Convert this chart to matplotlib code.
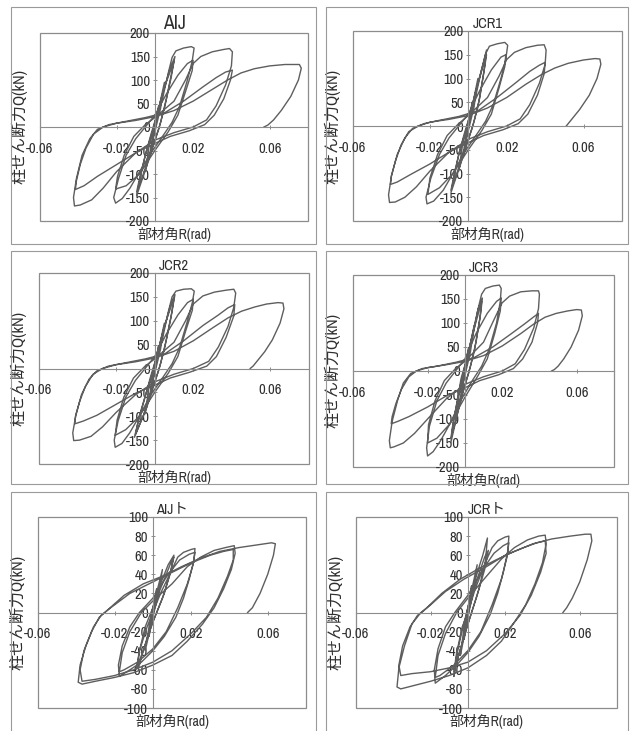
import matplotlib.pyplot as plt
from matplotlib.patches import Rectangle
from matplotlib import font_manager as fm

# pick a narrow latin face if the box has one (the scan uses a condensed font)
narrow = None
for f in fm.fontManager.ttflist:
    if ('Narrow' in f.name or 'Condensed' in f.name) and f.style == 'normal':
        narrow = f.name
        break
if narrow is None:
    for f in fm.fontManager.ttflist:
        if f.stretch in ('condensed', 'semi-condensed') and f.style == 'normal':
            narrow = f.name
            plt.rcParams['font.stretch'] = f.stretch
            break
latin = narrow if narrow else 'Liberation Sans'
num_size = 10.5 if narrow else 9
plt.rcParams['font.family'] = [latin, 'Noto Sans CJK JP']

# hysteresis loops, (R rad, Q kN)
aij_loop = [
    (0, 0), (0.002, 45), (0.001, 15), (-0.002, -45), (-0.001, -15), (0.001, 20),
    (0.005, 95), (0.003, 40), (0.0, -10), (-0.005, -95), (-0.003, -40), (0.0, 10),
    (0.004, 70), (0.008, 125), (0.0105, 150), (0.009, 120), (0.006, 60), (0.003, 10), (0.0, -30),
    (-0.004, -80), (-0.0095, -146), (-0.008, -115), (-0.005, -60), (-0.002, -15), (0.001, 25),
    (0.005, 85), (0.01, 140), (0.0085, 105), (0.005, 40), (0.002, -5), (-0.002, -50),
    (-0.006, -100), (-0.0095, -138), (-0.0075, -100), (-0.004, -45), (0.0, 5),
    (0.004, 60), (0.007, 115), (0.009, 148), (0.011, 162), (0.015, 168), (0.019, 171),
    (0.0205, 168), (0.0195, 140), (0.017, 100), (0.013, 45), (0.009, 10), (0.004, -20),
    (-0.002, -55), (-0.008, -95), (-0.013, -130), (-0.017, -152), (-0.0205, -162),
    (-0.0215, -150), (-0.019, -110), (-0.015, -60), (-0.01, -25), (-0.005, 0), (0.0, 25),
    (0.006, 70), (0.012, 110), (0.017, 135), (0.02, 142), (0.0195, 120), (0.016, 75),
    (0.012, 25), (0.007, -10), (0.0, -50), (-0.008, -100), (-0.015, -125), (-0.0205, -132),
    (-0.0195, -105), (-0.016, -60), (-0.011, -20), (-0.005, 5), (0.0, 20),
    (0.01, 55), (0.016, 100), (0.02, 135), (0.024, 150), (0.03, 160), (0.036, 165),
    (0.039, 167), (0.0405, 160), (0.04, 130), (0.037, 90), (0.032, 45), (0.027, 15),
    (0.02, 0), (0.01, -12), (0.0, -28), (-0.01, -55), (-0.02, -95), (-0.027, -130),
    (-0.033, -155), (-0.039, -166), (-0.042, -168), (-0.0425, -150), (-0.041, -110),
    (-0.038, -60), (-0.034, -25), (-0.03, -5), (-0.024, 5), (-0.015, 12), (-0.005, 20),
    (0.005, 30), (0.015, 55), (0.025, 85), (0.032, 105), (0.037, 117), (0.0405, 121),
    (0.0395, 100), (0.036, 60), (0.031, 25), (0.026, 5), (0.018, -8), (0.008, -20),
    (0.0, -35), (-0.01, -55), (-0.02, -80), (-0.03, -105), (-0.037, -125), (-0.0415, -133),
    (-0.041, -115), (-0.039, -80), (-0.036, -45), (-0.032, -15), (-0.027, 0), (-0.02, 8),
    (-0.01, 14), (0.0, 22), (0.01, 35), (0.02, 55), (0.03, 80), (0.038, 100), (0.045, 115),
    (0.052, 124), (0.06, 130), (0.068, 133), (0.0755, 133), (0.0765, 125), (0.075, 100),
    (0.071, 65), (0.066, 35), (0.062, 15), (0.059, 4), (0.057, 0),
]

jcr1_loop = [
    (0, 0), (0.002, 50), (0.001, 15), (-0.002, -45), (-0.001, -15), (0.001, 20),
    (0.005, 100), (0.003, 40), (0.0, -10), (-0.005, -95), (-0.003, -40), (0.0, 10),
    (0.004, 75), (0.008, 135), (0.0095, 160), (0.0085, 125), (0.006, 60), (0.003, 10), (0.0, -30),
    (-0.004, -80), (-0.009, -140), (-0.0075, -110), (-0.005, -60), (-0.002, -15), (0.001, 25),
    (0.005, 90), (0.0095, 150), (0.008, 110), (0.005, 40), (0.002, -5), (-0.002, -50),
    (-0.006, -100), (-0.009, -135), (-0.007, -95), (-0.004, -45), (0.0, 5),
    (0.004, 65), (0.007, 120), (0.009, 152), (0.011, 168), (0.015, 173), (0.019, 176),
    (0.0205, 170), (0.0195, 140), (0.017, 100), (0.013, 45), (0.009, 10), (0.004, -20),
    (-0.002, -55), (-0.008, -100), (-0.013, -135), (-0.018, -158), (-0.0215, -164),
    (-0.022, -150), (-0.0195, -110), (-0.015, -60), (-0.01, -25), (-0.005, 0), (0.0, 25),
    (0.006, 75), (0.012, 118), (0.017, 145), (0.0195, 150), (0.019, 125), (0.016, 80),
    (0.012, 25), (0.007, -10), (0.0, -50), (-0.008, -100), (-0.015, -130), (-0.021, -144),
    (-0.02, -110), (-0.016, -60), (-0.011, -20), (-0.005, 5), (0.0, 22),
    (0.01, 60), (0.016, 105), (0.02, 140), (0.024, 155), (0.03, 165), (0.036, 170),
    (0.0395, 171), (0.0405, 160), (0.04, 130), (0.037, 90), (0.032, 45), (0.027, 15),
    (0.02, 0), (0.01, -12), (0.0, -28), (-0.01, -55), (-0.02, -95), (-0.027, -128),
    (-0.033, -150), (-0.038, -160), (-0.041, -161), (-0.0415, -145), (-0.04, -105),
    (-0.037, -60), (-0.033, -25), (-0.029, -5), (-0.023, 5), (-0.015, 12), (-0.005, 20),
    (0.005, 32), (0.015, 60), (0.025, 92), (0.032, 115), (0.037, 128), (0.04, 134),
    (0.0395, 110), (0.036, 65), (0.031, 25), (0.026, 5), (0.018, -8), (0.008, -20),
    (0.0, -35), (-0.01, -55), (-0.02, -80), (-0.03, -102), (-0.037, -118), (-0.0405, -123),
    (-0.04, -105), (-0.038, -75), (-0.035, -40), (-0.031, -12), (-0.026, 0), (-0.02, 8),
    (-0.01, 14), (0.0, 22), (0.01, 38), (0.02, 60), (0.03, 88), (0.038, 108), (0.045, 122),
    (0.052, 132), (0.06, 139), (0.066, 142), (0.0685, 141), (0.069, 130), (0.067, 100),
    (0.063, 65), (0.058, 35), (0.054, 15), (0.052, 5), (0.051, 0),
]

jcr2_loop = [
    (0, 0), (0.002, 48), (0.001, 15), (-0.002, -45), (-0.001, -15), (0.001, 20),
    (0.005, 95), (0.003, 40), (0.0, -10), (-0.005, -95), (-0.003, -40), (0.0, 10),
    (0.004, 72), (0.008, 130), (0.0105, 155), (0.009, 120), (0.006, 60), (0.003, 10), (0.0, -30),
    (-0.004, -80), (-0.0105, -144), (-0.0085, -110), (-0.005, -60), (-0.002, -15), (0.001, 25),
    (0.005, 88), (0.01, 148), (0.0085, 108), (0.005, 40), (0.002, -5), (-0.002, -50),
    (-0.006, -100), (-0.01, -138), (-0.008, -100), (-0.004, -45), (0.0, 5),
    (0.004, 62), (0.007, 118), (0.009, 150), (0.011, 162), (0.015, 166), (0.019, 167),
    (0.0205, 162), (0.0195, 138), (0.017, 100), (0.013, 45), (0.009, 10), (0.004, -20),
    (-0.002, -55), (-0.008, -100), (-0.013, -135), (-0.017, -157), (-0.0205, -165),
    (-0.021, -150), (-0.019, -110), (-0.015, -60), (-0.01, -25), (-0.005, 0), (0.0, 25),
    (0.006, 72), (0.012, 112), (0.017, 138), (0.02, 145), (0.0195, 122), (0.016, 78),
    (0.012, 25), (0.007, -10), (0.0, -50), (-0.008, -100), (-0.015, -128), (-0.0205, -140),
    (-0.0195, -108), (-0.016, -60), (-0.011, -20), (-0.005, 5), (0.0, 20),
    (0.01, 55), (0.016, 100), (0.02, 135), (0.025, 152), (0.031, 160), (0.037, 164),
    (0.041, 166), (0.042, 158), (0.041, 128), (0.038, 88), (0.033, 45), (0.028, 15),
    (0.02, 0), (0.01, -12), (0.0, -28), (-0.01, -55), (-0.02, -92), (-0.027, -122),
    (-0.033, -142), (-0.039, -150), (-0.042, -151), (-0.0425, -135), (-0.041, -100),
    (-0.038, -55), (-0.034, -22), (-0.03, -5), (-0.024, 5), (-0.015, 12), (-0.005, 20),
    (0.005, 30), (0.015, 58), (0.025, 90), (0.033, 112), (0.038, 127), (0.0415, 134),
    (0.041, 110), (0.037, 65), (0.032, 25), (0.027, 5), (0.018, -8), (0.008, -20),
    (0.0, -35), (-0.01, -52), (-0.02, -75), (-0.03, -98), (-0.037, -110), (-0.0415, -116),
    (-0.041, -98), (-0.039, -70), (-0.036, -38), (-0.032, -12), (-0.027, 0), (-0.02, 8),
    (-0.01, 14), (0.0, 22), (0.01, 36), (0.02, 58), (0.03, 85), (0.038, 106), (0.045, 120),
    (0.052, 129), (0.058, 135), (0.064, 138), (0.0665, 137), (0.067, 125), (0.065, 95),
    (0.061, 60), (0.057, 35), (0.053, 15), (0.051, 5), (0.0495, 0),
]

jcr3_loop = [
    (0, 0), (0.002, 48), (0.001, 15), (-0.002, -45), (-0.001, -15), (0.001, 20),
    (0.005, 95), (0.003, 40), (0.0, -10), (-0.005, -100), (-0.003, -40), (0.0, 10),
    (0.004, 75), (0.007, 128), (0.0094, 152), (0.0085, 120), (0.006, 60), (0.003, 10), (0.0, -30),
    (-0.004, -90), (-0.0075, -149), (-0.0065, -115), (-0.004, -60), (-0.002, -15), (0.001, 25),
    (0.005, 88), (0.009, 145), (0.008, 108), (0.005, 40), (0.002, -5), (-0.002, -55),
    (-0.005, -105), (-0.0075, -140), (-0.006, -100), (-0.003, -45), (0.0, 5),
    (0.004, 68), (0.007, 128), (0.009, 160), (0.011, 172), (0.015, 177), (0.0185, 179),
    (0.0195, 172), (0.019, 145), (0.017, 100), (0.013, 45), (0.009, 10), (0.004, -20),
    (-0.002, -60), (-0.008, -110), (-0.013, -145), (-0.017, -168), (-0.02, -177),
    (-0.0205, -160), (-0.019, -115), (-0.015, -62), (-0.01, -25), (-0.005, 0), (0.0, 25),
    (0.006, 78), (0.012, 120), (0.017, 145), (0.0195, 152), (0.019, 125), (0.016, 78),
    (0.012, 25), (0.007, -10), (0.0, -55), (-0.008, -110), (-0.015, -140), (-0.02, -150),
    (-0.0195, -112), (-0.016, -62), (-0.011, -20), (-0.005, 5), (0.0, 20),
    (0.01, 60), (0.016, 110), (0.02, 142), (0.024, 156), (0.03, 165), (0.036, 167),
    (0.0395, 167), (0.04, 160), (0.0395, 130), (0.037, 90), (0.032, 45), (0.027, 15),
    (0.02, 0), (0.01, -12), (0.0, -28), (-0.01, -58), (-0.02, -100), (-0.027, -130),
    (-0.033, -150), (-0.038, -158), (-0.04, -160), (-0.0405, -145), (-0.039, -105),
    (-0.036, -60), (-0.033, -25), (-0.029, -5), (-0.023, 5), (-0.015, 10), (-0.005, 18),
    (0.005, 28), (0.015, 50), (0.025, 78), (0.032, 98), (0.037, 113), (0.0395, 120),
    (0.039, 100), (0.036, 60), (0.031, 25), (0.026, 5), (0.018, -8), (0.008, -20),
    (0.0, -35), (-0.01, -52), (-0.02, -75), (-0.03, -95), (-0.036, -105), (-0.0395, -110),
    (-0.039, -95), (-0.037, -68), (-0.034, -38), (-0.03, -12), (-0.026, 0), (-0.02, 7),
    (-0.01, 13), (0.0, 20), (0.01, 32), (0.02, 52), (0.03, 78), (0.037, 98), (0.043, 112),
    (0.049, 120), (0.055, 125), (0.06, 128), (0.0625, 127), (0.063, 115), (0.061, 85),
    (0.057, 50), (0.053, 25), (0.05, 10), (0.048, 3), (0.0465, 0),
]

aij_t_loop = [
    (0, 0), (0.002, 25), (0.001, 8), (-0.002, -25), (-0.001, -8), (0.0, 5),
    (0.005, 45), (0.003, 20), (0.0, -5), (-0.004, -40), (-0.002, -15), (0.0, 5),
    (0.004, 30), (0.008, 50), (0.011, 60), (0.0095, 45), (0.006, 20), (0.002, 0), (-0.002, -20),
    (-0.005, -40), (-0.007, -55), (-0.0085, -58), (-0.007, -40), (-0.004, -15), (0.0, 5),
    (0.005, 30), (0.01, 55), (0.011, 58), (0.009, 40), (0.005, 15), (0.0, -10), (-0.005, -40),
    (-0.008, -55), (-0.007, -40), (-0.003, -15), (0.0, 0),
    (0.004, 20), (0.01, 45), (0.013, 58), (0.016, 63), (0.02, 66), (0.022, 67), (0.0215, 55),
    (0.019, 35), (0.016, 15), (0.012, -5), (0.006, -25), (0.0, -40), (-0.006, -52),
    (-0.012, -60), (-0.0175, -67), (-0.018, -55), (-0.016, -35), (-0.012, -15), (-0.007, 0),
    (0.0, 15), (0.008, 40), (0.014, 55), (0.019, 61), (0.022, 63), (0.021, 50), (0.018, 30),
    (0.013, 5), (0.007, -20), (0.0, -38), (-0.008, -52), (-0.015, -60), (-0.0175, -62),
    (-0.016, -42), (-0.012, -20), (-0.006, 0), (0.0, 12),
    (0.01, 30), (0.018, 48), (0.025, 58), (0.032, 65), (0.038, 68), (0.0425, 70), (0.043, 62),
    (0.041, 45), (0.037, 25), (0.032, 5), (0.026, -12), (0.018, -30), (0.01, -45), (0.0, -55),
    (-0.01, -63), (-0.02, -68), (-0.03, -72), (-0.037, -75), (-0.039, -73), (-0.038, -55),
    (-0.035, -35), (-0.031, -15), (-0.027, -3), (-0.022, 5), (-0.012, 20), (-0.002, 30),
    (0.01, 42), (0.02, 52), (0.03, 60), (0.037, 64), (0.042, 66), (0.042, 55), (0.039, 38),
    (0.034, 15), (0.028, -5), (0.02, -22), (0.01, -40), (0.0, -52), (-0.01, -60),
    (-0.02, -66), (-0.03, -70), (-0.037, -72), (-0.038, -60), (-0.036, -40), (-0.032, -20),
    (-0.028, -5), (-0.024, 2), (-0.015, 18), (-0.005, 30),
    (0.005, 38), (0.015, 48), (0.025, 57), (0.035, 64), (0.045, 68), (0.055, 71), (0.062, 73),
    (0.064, 72), (0.063, 60), (0.06, 40), (0.056, 20), (0.052, 5), (0.0495, 0),
]

jcr_t_loop = [
    (0, 0), (0.002, 28), (0.001, 8), (-0.002, -28), (-0.001, -8), (0.0, 5),
    (0.005, 50), (0.003, 22), (0.0, -5), (-0.004, -45), (-0.002, -15), (0.0, 5),
    (0.004, 35), (0.008, 60), (0.0105, 78), (0.0095, 55), (0.006, 25), (0.002, 0), (-0.002, -25),
    (-0.005, -45), (-0.007, -62), (-0.0075, -67), (-0.006, -45), (-0.003, -18), (0.0, 5),
    (0.005, 35), (0.009, 58), (0.011, 65), (0.009, 45), (0.005, 18), (0.0, -12), (-0.005, -45),
    (-0.0075, -62), (-0.006, -42), (-0.003, -15), (0.0, 0),
    (0.004, 25), (0.01, 55), (0.013, 68), (0.016, 75), (0.02, 79), (0.022, 80), (0.0215, 65),
    (0.019, 42), (0.016, 20), (0.012, -2), (0.006, -25), (0.0, -42), (-0.006, -55),
    (-0.012, -66), (-0.0175, -74), (-0.018, -60), (-0.016, -38), (-0.012, -15), (-0.007, 0),
    (0.0, 18), (0.008, 45), (0.014, 62), (0.019, 70), (0.022, 73), (0.021, 58), (0.018, 35),
    (0.013, 8), (0.007, -20), (0.0, -40), (-0.008, -56), (-0.015, -66), (-0.0175, -68),
    (-0.016, -45), (-0.012, -22), (-0.006, 0), (0.0, 15),
    (0.01, 38), (0.018, 56), (0.025, 68), (0.032, 76), (0.038, 80), (0.0415, 81), (0.042, 72),
    (0.04, 52), (0.036, 30), (0.031, 8), (0.025, -10), (0.018, -30), (0.01, -45), (0.0, -58),
    (-0.01, -66), (-0.02, -72), (-0.03, -77), (-0.036, -80), (-0.038, -78), (-0.037, -58),
    (-0.034, -35), (-0.03, -12), (-0.026, -2), (-0.02, 8), (-0.012, 22), (-0.002, 35),
    (0.01, 48), (0.02, 60), (0.03, 68), (0.037, 73), (0.0415, 75), (0.042, 62), (0.039, 42),
    (0.034, 18), (0.028, -3), (0.02, -22), (0.01, -40), (0.0, -52), (-0.01, -58),
    (-0.02, -62), (-0.03, -64), (-0.036, -66), (-0.037, -55), (-0.035, -35), (-0.031, -15),
    (-0.027, -3), (-0.022, 5), (-0.014, 20), (-0.004, 35),
    (0.005, 45), (0.015, 55), (0.025, 64), (0.035, 72), (0.045, 77), (0.055, 80), (0.063, 82),
    (0.066, 82), (0.0665, 75), (0.064, 55), (0.06, 32), (0.056, 15), (0.053, 5), (0.051, 0),
]

titles = ['AIJ', 'JCR1', 'JCR2', 'JCR3', 'AIJト', 'JCRト']
loops = [aij_loop, jcr1_loop, jcr2_loop, jcr3_loop, aij_t_loop, jcr_t_loop]
r_ticks = [-0.06, -0.02, 0.02, 0.06]
r_labels = ['-0.06', '-0.02', '0.02', '0.06']
q_ticks_big = [-200, -150, -100, -50, 0, 50, 100, 150, 200]
q_ticks_small = [-100, -80, -60, -40, -20, 0, 20, 40, 60, 80, 100]
ylabel = '柱せん断力Q(kN)'
xlabel = '部材角R(rad)'

W, H = 634, 731
txt = '#2e2e2e'
line_c = '#5e5e5e'
frame_c = '#8c8c8c'

fig = plt.figure(figsize=(W / 100, H / 100), dpi=100)

# outer panel boxes (pixels: left, top, right, bottom)
boxes = [(11, 7, 316, 244), (326, 7, 628, 244),
         (11, 251, 316, 484), (326, 251, 628, 484),
         (11, 492, 316, 740), (326, 492, 628, 740)]
# plot areas (pixels)
areas = [(40, 33, 308, 221), (353, 31, 622, 221),
         (39, 273, 309, 464), (353, 275, 614, 467),
         (38, 517, 306, 708), (356, 517, 617, 708)]

for i in range(6):
    l, t, r, b = boxes[i]
    fig.add_artist(Rectangle((l / W, 1 - b / H), (r - l) / W, (b - t) / H,
                             transform=fig.transFigure, fill=False,
                             ec='#9a9a9a', lw=0.8))
    l, t, r, b = areas[i]
    ax = fig.add_axes([l / W, 1 - b / H, (r - l) / W, (b - t) / H])
    R = [p[0] for p in loops[i]]
    Q = [p[1] for p in loops[i]]
    ax.plot(R, Q, color=line_c, lw=1.0)

    ymax = 200 if i < 4 else 100
    ax.set_xlim(-0.06, 0.08)
    ax.set_ylim(-ymax, ymax)
    ax.set_xticks(r_ticks)
    ax.set_xticklabels(r_labels)
    qt = q_ticks_big if i < 4 else q_ticks_small
    ax.set_yticks(qt)
    ax.set_yticklabels([str(v) for v in qt])

    ax.spines['left'].set_position('zero')
    ax.spines['bottom'].set_position('zero')
    ax.spines['top'].set_visible(False)
    ax.spines['right'].set_visible(False)
    for s in ['left', 'bottom']:
        ax.spines[s].set_color(frame_c)
        ax.spines[s].set_linewidth(0.8)
    ax.add_patch(Rectangle((0, 0), 1, 1, transform=ax.transAxes, fill=False,
                           ec=frame_c, lw=0.9, clip_on=False))

    ax.tick_params(axis='both', colors=frame_c, labelcolor=txt, labelsize=num_size,
                   length=3, width=0.7, direction='inout')
    ax.tick_params(axis='x', pad=9)
    ax.tick_params(axis='y', pad=2)

    ax.set_ylabel(ylabel, fontsize=11.5, color=txt)
    ax.yaxis.set_label_coords(-13 / (r - l), 0.5)
    ax.set_xlabel(xlabel, fontsize=10, color=txt)
    ax.xaxis.set_label_coords(0.5, -6 / (b - t))
    ax.set_title(titles[i], fontsize=14 if i == 0 else 10.5, color=txt, pad=2)

fig.savefig('out.png', dpi=100)
